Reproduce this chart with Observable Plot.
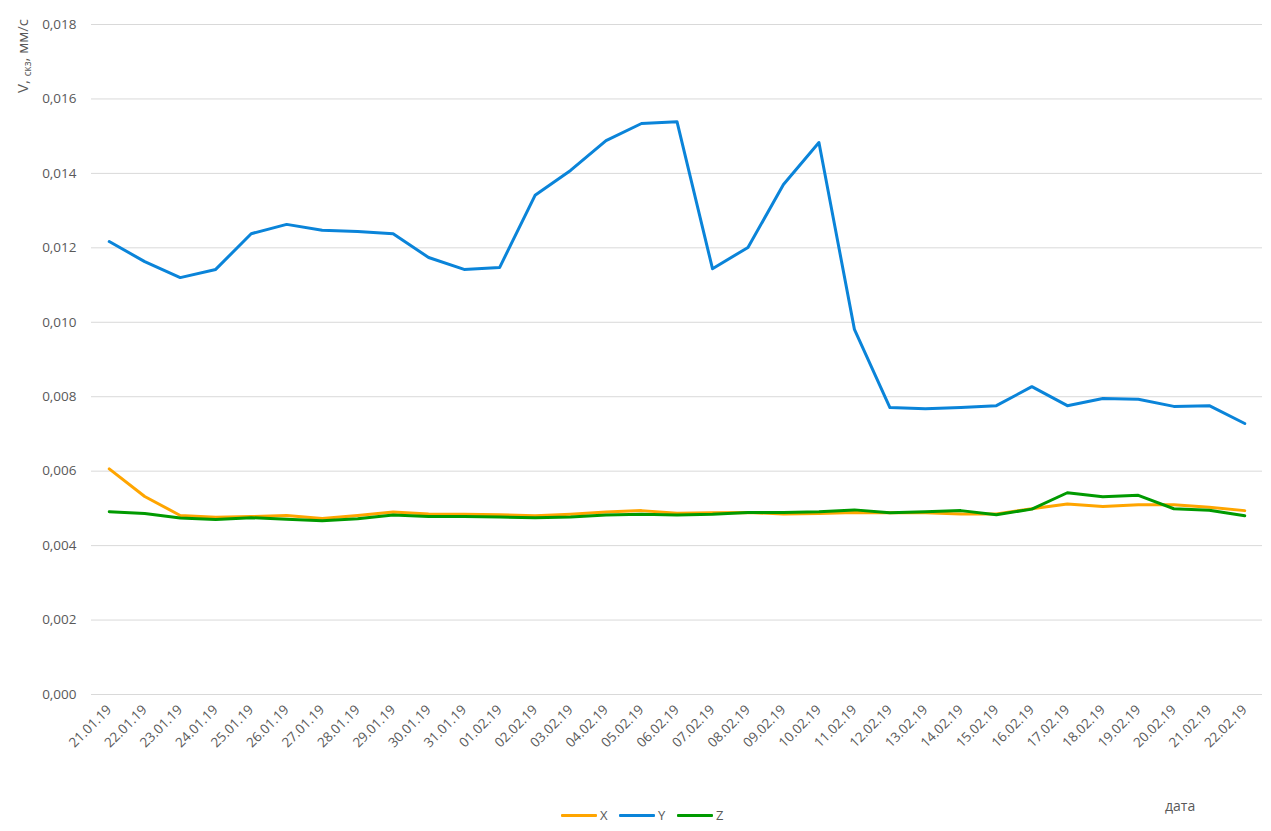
<!DOCTYPE html>
<html>
<head>
<meta charset="utf-8">
<script src="https://cdn.jsdelivr.net/npm/d3@7"></script>
<script src="https://cdn.jsdelivr.net/npm/@observablehq/plot@0.6"></script>
<style>
  html, body { margin: 0; padding: 0; background: #fff; }
  body { width: 1271px; height: 831px; overflow: hidden; font-family: "Open Sans", "Liberation Sans", sans-serif; color: #595959; }
  #chart { position: relative; width: 1271px; height: 800px; }
  #below { position: relative; width: 1271px; height: 31px; }
  .sw { position: absolute; height: 3px; top: 14px; border-radius: 1px; }
  .lt { position: absolute; top: 6px; font-size: 13px; line-height: 18px; }
  #xlabel { position: absolute; left: 1165px; top: -4px; font-size: 14px; }
</style>
</head>
<body>
<div id="chart"></div>
<div id="below">
  <div class="sw" style="left:561px;width:36px;background:#FFA500"></div><div class="lt" style="left:600px">X</div>
  <div class="sw" style="left:619px;width:36px;background:#0A84D9"></div><div class="lt" style="left:658px">Y</div>
  <div class="sw" style="left:677px;width:36px;background:#009A00"></div><div class="lt" style="left:716px">Z</div>
  <div id="xlabel">дата</div>
</div>
<script>
const dates = ["21.01.19","22.01.19","23.01.19","24.01.19","25.01.19","26.01.19","27.01.19","28.01.19","29.01.19","30.01.19","31.01.19",
  "01.02.19","02.02.19","03.02.19","04.02.19","05.02.19","06.02.19","07.02.19","08.02.19","09.02.19","10.02.19","11.02.19",
  "12.02.19","13.02.19","14.02.19","15.02.19","16.02.19","17.02.19","18.02.19","19.02.19","20.02.19","21.02.19","22.02.19"];
const seriesX = [0.00606,0.00532,0.00481,0.00476,0.00478,0.00481,0.00473,0.00481,0.00490,0.00485,0.00484,
  0.00483,0.00480,0.00484,0.00490,0.00494,0.00487,0.00488,0.00489,0.00485,0.00486,0.00489,
  0.00488,0.00488,0.00485,0.00485,0.00499,0.00512,0.00505,0.00510,0.00510,0.00503,0.00494];
const seriesY = [0.01217,0.01163,0.01120,0.01142,0.01238,0.01263,0.01247,0.01244,0.01238,0.01174,0.01142,
  0.01147,0.01341,0.01408,0.01488,0.01534,0.01539,0.01144,0.01201,0.01370,0.01483,0.00981,
  0.00771,0.00768,0.00771,0.00776,0.00827,0.00776,0.00795,0.00793,0.00774,0.00776,0.00728];
const seriesZ = [0.00491,0.00486,0.00474,0.00470,0.00475,0.00471,0.00467,0.00472,0.00482,0.00478,0.00478,
  0.00477,0.00475,0.00477,0.00482,0.00484,0.00482,0.00484,0.00489,0.00489,0.00491,0.00496,
  0.00488,0.00491,0.00494,0.00483,0.00498,0.00542,0.00531,0.00535,0.00499,0.00495,0.00480];
const yTicks = [0,0.002,0.004,0.006,0.008,0.010,0.012,0.014,0.016,0.018];
const seriesNames = ["X","Y","Z"];
const seriesColors = ["#FFA500","#0A84D9","#009A00"];

const rows = [];
[seriesX, seriesY, seriesZ].forEach((vals, k) => {
  vals.forEach((v, i) => rows.push({date: dates[i], value: v, series: seriesNames[k]}));
});

const fmt = d => d.toFixed(3).replace(".", ",");

const plot = Plot.plot({
  width: 1271,
  height: 800,
  marginTop: 24,
  marginBottom: 106,
  marginLeft: 91,
  marginRight: 9,
  style: {fontFamily: "'Open Sans', 'Liberation Sans', sans-serif", fontSize: "13px", color: "#595959", background: "#fff"},
  x: {type: "point", domain: dates, padding: 0.5, round: false, label: null},
  y: {domain: [0, 0.018], label: null},
  color: {domain: seriesNames, range: seriesColors},
  marks: [
    Plot.gridY(yTicks, {stroke: "#d9d9d9", strokeOpacity: 1, strokeWidth: 1}),
    Plot.axisY({ticks: yTicks, tickFormat: fmt, tickSize: 0, tickPadding: 15, fontSize: 13.5, label: null}),
    Plot.axisX({tickSize: 0, tickRotate: -45, tickPadding: 13, fontSize: 13.5, label: null}),
    Plot.line(rows, {x: "date", y: "value", z: "series", stroke: "series", strokeWidth: 3, strokeLinejoin: "round", strokeLinecap: "round"})
  ]
});
document.getElementById("chart").appendChild(plot);

// rotated y-axis title with subscript
const svg = d3.select(plot);
const t = svg.append("text")
  .attr("transform", "translate(28,19) rotate(-90)")
  .attr("text-anchor", "end")
  .attr("fill", "#595959")
  .style("font-family", "'Open Sans', 'Liberation Sans', sans-serif")
  .style("font-size", "15px");
t.append("tspan").text("V, ");
t.append("tspan").attr("dy", "3").style("font-size", "10px").text("скз");
t.append("tspan").attr("dy", "-3").text(", мм/с");
</script>
</body>
</html>
